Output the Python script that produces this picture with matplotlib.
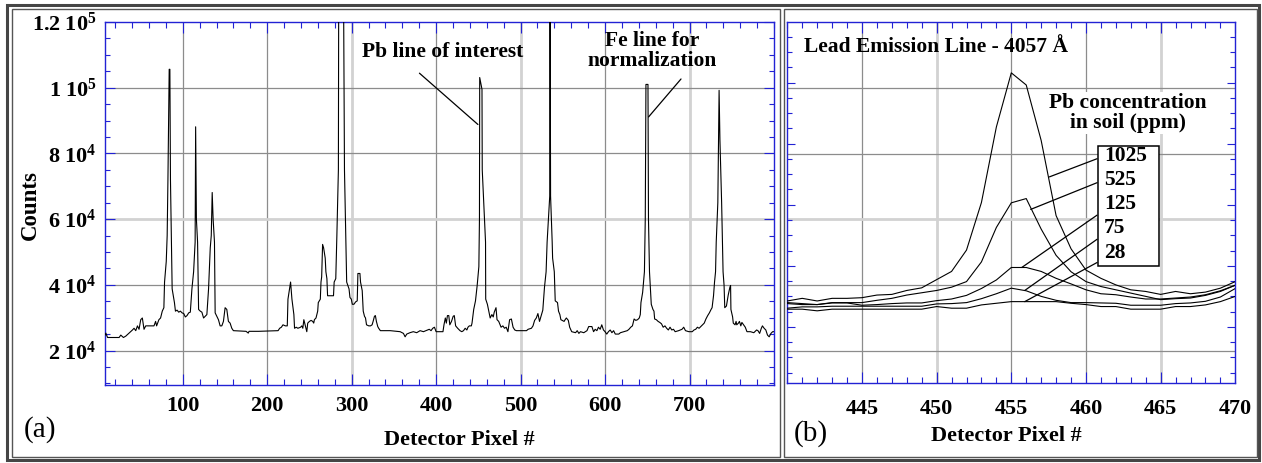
import matplotlib
matplotlib.use('Agg')
import matplotlib.pyplot as plt
from matplotlib.ticker import MultipleLocator, FixedLocator, NullFormatter
from matplotlib.patches import Rectangle
import numpy as np

plt.rcParams['font.family'] = ['Liberation Serif', 'DejaVu Serif']
plt.rcParams['font.weight'] = 'bold'
plt.rcParams['mathtext.fontset'] = 'custom'
plt.rcParams['mathtext.rm'] = 'Liberation Serif:bold'
plt.rcParams['mathtext.bf'] = 'Liberation Serif:bold'
plt.rcParams['mathtext.it'] = 'Liberation Serif:bold'

# ---------------- data: panel (a) full spectrum ----------------
spec_pixel = [8, 9, 11, 24.7, 26.7, 29.8, 32.6, 40.5, 42.4, 44.4, 46.4, 48.3, 50.3, 52.2, 54.2, 56.2,
              66, 67.9, 69.1, 71.8, 73.8, 75.8, 77.7, 78.5, 80.5, 81.6, 82.5, 84, 84.8, 85.5, 86.7,
              87.5, 90.2, 91.4, 93.3, 95.3, 97.3, 99.2, 101.2, 103.1, 105.1, 107.1, 109, 110.9,
              112.9, 114.7, 115.3, 116.2, 117.6, 118.8, 120.8, 122.7, 124.7, 126.7, 128.6, 130.6,
              132.6, 133.8, 134.9, 136, 137.6, 138.4, 140.4, 142.3, 144.3, 146.3, 148.2, 150.2,
              152.2, 154.1, 156.1, 158.1, 160, 175, 177.6, 178.5, 190, 212.9, 214.8, 216.8, 218.7,
              221.5, 223.8, 224.6, 227.7, 229.3, 231.6, 232.4, 234.4, 236.3, 239.5, 241, 242.2,
              243.4, 244.9, 246.9, 248, 250, 252, 253.9, 255.1, 255.9, 257.8, 259.8, 260.5, 262.9,
              263.7, 264.5, 265.6, 266.8, 268.7, 269.5, 270.7, 271.5, 278.5, 279.3, 281.2, 282.5,
              284.3, 284.8, 290, 291.5, 293, 294.1, 296.9, 298, 299.6, 300.8, 302.7, 304.7, 306.6,
              307.4, 309.8, 310.5, 312.5, 313.7, 315.2, 316.4, 317.6, 320.3, 322.3, 324.2, 325.4,
              327, 328.1, 329.3, 330.9, 332, 334, 345.7, 357.4, 361.3, 363.3, 365.2, 369, 373, 377,
              381, 385, 391.9, 394, 396, 398, 400, 408.1, 409.3, 410.9, 412.1, 413.4, 415, 416.2,
              418.2, 420.2, 421.5, 423.1, 425.5, 428.3, 430.4, 432.4, 434.4, 436.4, 437.7, 439.3,
              441.7, 442.5, 444.5, 446.6, 448.6, 450.6, 451.3, 451.6, 454.3, 454.6, 458.5, 458.7,
              460.7, 461.9, 464, 466, 467.6, 468.8, 470.9, 472.1, 474.1, 475.7, 476.9, 479, 481,
              483, 485, 487, 489.1, 491.1, 493.1, 495.1, 507, 508.9, 512.8, 514.7, 516.6, 518.6,
              520.5, 522.4, 526.3, 528.3, 530.2, 531.4, 534.5, 534.9, 535.5, 537.4, 537.9, 539.9,
              541, 543.7, 544.9, 546.5, 547.7, 551.5, 552.7, 554.2, 556.5, 558.1, 560.5, 565.1,
              567, 569, 570.9, 574.8, 578.6, 580.6, 584.4, 586.4, 588.3, 590.3, 592.2, 594.2,
              596.1, 598.1, 600, 602, 604, 606.1, 608.1, 610.1, 612.1, 616.2, 618.2, 622.3, 626.3,
              628.3, 630.4, 632.4, 634.4, 636.4, 638.5, 640.5, 641.7, 642.5, 644.5, 646.6, 647.6,
              648.4, 650.8, 651.4, 652.6, 654.7, 656.7, 657.9, 658.7, 660.7, 662.8, 664.8, 666.8,
              668.8, 670.9, 672.9, 674.9, 676.9, 679, 681, 683, 687.1, 691.1, 693.1, 695.2, 699.2,
              703.2, 705.3, 707.3, 709.3, 711.3, 713.4, 715.4, 717.4, 719.4, 721.5, 723.5, 725.5,
              726.7, 728.4, 729.6, 730.8, 731.6, 733.5, 735, 736, 738, 738.9, 739.7, 740.9, 741.7,
              743.7, 745.8, 747.8, 748.6, 749, 751, 751.8, 753.9, 755.1, 755.9, 757.9, 759.1,
              760.7, 762, 764, 766, 768, 772.1, 776.1, 779.4, 781, 783, 785, 786.3, 788.3, 790.3,
              792.3, 794.3, 796.4, 798.4, 802]
spec_counts = [24700, 25300, 23960, 23960, 24690, 23960, 24380, 26250, 26770, 26040, 27500, 26460,
               29380, 29900, 26460, 27500, 27500, 28860, 27500, 29380, 29900, 31980, 33030, 40840,
               47090, 55000, 72000, 105600, 105600, 72000, 53000, 38760, 34590, 31980, 32290, 31670,
               31980, 31460, 31250, 30210, 30630, 31460, 31670, 38760, 43970, 53000, 88100, 60000,
               53000, 32500, 31980, 31670, 29900, 30420, 30940, 38760, 51260, 55000, 68100, 60000,
               53000, 31460, 30420, 29380, 27500, 27500, 28860, 33030, 32500, 28860, 28340, 26770,
               26040, 25840, 25300, 25840, 25840, 26040, 26770, 27090, 27820, 27500, 27500, 35630,
               40840, 35630, 30940, 26770, 27090, 26770, 27090, 27500, 26770, 29380, 27820, 25730,
               28340, 28860, 29170, 28860, 28340, 29380, 29900, 31980, 34590, 35630, 40840, 42400,
               52300, 51260, 48130, 43970, 41880, 36670, 36670, 40840, 41880, 55000, 75000, 150000,
               150000, 75000, 55000, 40840, 38760, 36150, 35630, 34070, 34070, 34800, 35110, 43450,
               43450, 40840, 38240, 31980, 30420, 29900, 27820, 27500, 27500, 27820, 28860, 30420,
               30630, 28860, 27290, 26770, 26040, 26040, 25730, 25210, 24170, 25000, 25420, 25730,
               25420, 26040, 25730, 26460, 26040, 26770, 27090, 25730, 25730, 27820, 29900, 28340,
               30630, 30630, 27820, 28860, 30420, 30630, 27500, 26770, 26040, 25730, 26040, 26770,
               26250, 27090, 27500, 27500, 28340, 32500, 35110, 39800, 45530, 60000, 103100, 99500,
               75000, 53000, 35630, 34070, 32500, 29900, 30940, 30210, 31670, 33030, 29380, 28860,
               27820, 27090, 27500, 26770, 27090, 25730, 29380, 29590, 27090, 26250, 26040, 26040,
               26460, 26770, 27500, 29170, 29900, 31250, 28860, 32290, 39280, 43970, 53000, 67000,
               135000, 67000, 53000, 48130, 43970, 35110, 34590, 31980, 30940, 29380, 28860, 29380,
               29900, 29170, 27090, 25730, 25420, 26040, 25210, 25730, 25420, 26040, 27290, 27290,
               25730, 26460, 26040, 27090, 26460, 27820, 26250, 25730, 25000, 25730, 26250, 25420,
               26040, 25000, 25000, 25420, 25730, 26040, 26460, 27090, 27500, 29590, 29170, 29380,
               29900, 30940, 34590, 37710, 43970, 60000, 101000, 101000, 60000, 43970, 34070, 32500,
               31980, 29590, 29380, 28860, 28540, 28130, 27090, 27500, 26770, 26250, 27090, 26250,
               26460, 25730, 26040, 26460, 27090, 26040, 25730, 25730, 26250, 26460, 27090, 26770,
               27290, 27820, 28340, 29590, 30630, 31460, 32500, 33030, 36670, 40840, 43970, 53000,
               65000, 99200, 84000, 65000, 53000, 43970, 39800, 33030, 33550, 36880, 39280, 39800,
               32500, 30210, 28340, 27820, 28860, 27820, 28340, 28860, 27500, 28540, 27820, 27090,
               25730, 25730, 25420, 26250, 26040, 25210, 26770, 27500, 26770, 26250, 24690, 24170,
               25210, 25730, 25730]

# ---------------- data: panel (b) zoom on the lead line ----------------
zoom_pixel = [440, 441, 442, 443, 444, 445, 446, 447, 448, 449, 450, 451, 452, 453, 454, 455,
              456, 457, 458, 459, 460, 461, 462, 463, 464, 465, 466, 467, 468, 469, 470]
pb_1025 = [35100, 35900, 35100, 35900, 35900, 36100, 36900, 37100, 38300, 39100, 41600, 44100,
           50600, 65100, 88100, 104600, 100900, 84000, 61100, 51000, 44500, 42000, 40000, 38500,
           38000, 37100, 38000, 37300, 37800, 39000, 41000]
pb_525 = [34600, 34300, 34000, 34600, 34600, 34600, 35300, 35900, 36900, 37600, 38300, 39300,
          41000, 47000, 57500, 65000, 66300, 57000, 49000, 44000, 41000, 39500, 38500, 37500,
          36500, 35500, 35800, 36000, 36800, 38000, 39900]
pb_125 = [34300, 34000, 34000, 34500, 34500, 33800, 34000, 34300, 34500, 34500, 35200, 35700,
          36800, 38900, 41500, 45300, 45300, 44100, 42000, 40300, 38500, 37300, 37000, 36300,
          35700, 35700, 36000, 36300, 37000, 38200, 39900]
pb_75 = [32900, 33300, 33300, 33500, 33500, 33500, 33500, 33500, 33500, 33500, 34200, 34300,
         34600, 35800, 37300, 39000, 38200, 36500, 35300, 34600, 34600, 34500, 34400, 33800,
         33800, 33800, 34300, 34500, 35000, 36300, 38900]
pb_28 = [32600, 32600, 32100, 32600, 32600, 32600, 32600, 32600, 32600, 32600, 33400, 32900,
         32900, 33900, 34400, 34900, 34900, 34900, 34900, 34400, 34000, 33400, 33400, 32600,
         32600, 32600, 33400, 33400, 33900, 34900, 36500]
conc_labels = ['1025', '525', '125', '75', '28']

a_xticks = [100, 200, 300, 400, 500, 600, 700]
a_yticks = [20000, 40000, 60000, 80000, 100000, 120000]
a_yticklabels = [r'$2\;10^{4}$', r'$4\;10^{4}$', r'$6\;10^{4}$', r'$8\;10^{4}$',
                 r'$1\;10^{5}$', r'$1.2\;10^{5}$']
b_xticks = [445, 450, 455, 460, 465, 470]

# ---------------- figure ----------------
W, H = 1262, 463
fig = plt.figure(figsize=(W / 100, H / 100), dpi=100)
fig.patch.set_facecolor('white')


def frect(l, t, r, b):
    return [l / W, 1 - b / H, (r - l) / W, (b - t) / H]


def fxy(x, y):
    return x / W, 1 - y / H


# borders (table-like frame)
for (l, t, r, b, lw, c) in [(7, 5, 1259, 460, 2.2, '#454545'),
                            (11.5, 8.5, 779.5, 456.5, 1.0, '#555555'),
                            (783.5, 8.5, 1256.5, 456.5, 1.0, '#555555')]:
    fig.add_artist(Rectangle((l / W, 1 - b / H), (r - l) / W, (b - t) / H,
                             transform=fig.transFigure, fill=False, ec=c, lw=lw))

axa = fig.add_axes(frect(105, 22, 774, 385))
axb = fig.add_axes(frect(787.3, 22.3, 1235.3, 382.7))

BLUE = '#2222d4'
DARKGRID = '#8c8c8c'
LIGHTGRID = '#d2d2d2'

for ax in (axa, axb):
    for s in ax.spines.values():
        s.set_color(BLUE)
        s.set_linewidth(1.0)
    ax.tick_params(which='both', direction='in', top=True, right=True,
                   color=BLUE, labelcolor='black', width=0.8)

# ---- panel (a)
axa.plot(spec_pixel, spec_counts, color='black', lw=0.8, zorder=3)
axa.set_xlim(8, 800)
axa.set_ylim(9500, 120000)
axa.set_xticks(a_xticks)
axa.xaxis.set_minor_locator(MultipleLocator(20))
axa.set_yticks(a_yticks)
axa.set_yticklabels(a_yticklabels)
axa.yaxis.set_minor_locator(MultipleLocator(5000))
axa.tick_params(axis='x', which='major', length=8, pad=8, labelsize=16)
axa.tick_params(axis='x', which='minor', length=4)
axa.tick_params(axis='y', which='major', length=7.5, pad=6, labelsize=16)
axa.tick_params(axis='y', which='minor', length=3.6)
for v in a_xticks:
    light = v in (300, 500, 700)
    axa.axvline(v, color=LIGHTGRID if light else DARKGRID, lw=2 if light else 0.9, zorder=1)
for v in a_yticks[:-1]:
    light = v == 60000
    axa.axhline(v, color=LIGHTGRID if light else DARKGRID, lw=2 if light else 0.9, zorder=1)

axa.text(0.504, 0.917, 'Pb line of interest', transform=axa.transAxes,
         ha='center', va='center', fontsize=15.5, fontweight='bold', zorder=5)
axa.annotate('', xy=(449.5, 88800), xycoords='data', xytext=(0.470, 0.859),
             textcoords='axes fraction', arrowprops=dict(arrowstyle='-', color='black', lw=0.9,
                                                         shrinkA=0, shrinkB=0))
axa.text(0.818, 0.920, 'Fe line for\nnormalization', transform=axa.transAxes,
         ha='center', va='center', fontsize=15.5, fontweight='bold', linespacing=1.0, zorder=5)
axa.annotate('', xy=(651.5, 91100), xycoords='data', xytext=(0.861, 0.843),
             textcoords='axes fraction', arrowprops=dict(arrowstyle='-', color='black', lw=0.9,
                                                         shrinkA=0, shrinkB=0))

# ---- panel (b)
for series in (pb_1025, pb_525, pb_125, pb_75, pb_28):
    axb.plot(zoom_pixel, series, color='black', lw=0.8, zorder=3)
axb.set_xlim(440, 470)
axb.set_ylim(10200, 120000)
axb.set_xticks(b_xticks)
axb.xaxis.set_minor_locator(MultipleLocator(1))
step = 18610
base = 27200
axb.yaxis.set_major_locator(FixedLocator([base + step * k for k in range(-1, 6)]))
axb.yaxis.set_minor_locator(FixedLocator([base + step / 4 * k for k in range(-4, 24)]))
axb.yaxis.set_major_formatter(NullFormatter())
axb.tick_params(axis='x', which='major', length=8, pad=12, labelsize=16)
axb.tick_params(axis='x', which='minor', length=4)
axb.tick_params(axis='y', which='major', length=6)
axb.tick_params(axis='y', which='minor', length=3.6)
for v in b_xticks[:-1]:
    light = v in (450, 465)
    axb.axvline(v, color=LIGHTGRID if light else DARKGRID, lw=2 if light else 0.9, zorder=1)
for v in a_yticks[:-1]:
    light = v == 60000
    axb.axhline(v, color=LIGHTGRID if light else DARKGRID, lw=2 if light else 0.9, zorder=1)

axb.text(0.037, 0.932, 'Lead Emission Line - 4057 Å', transform=axb.transAxes,
         ha='left', va='center', fontsize=15.5, fontweight='bold', zorder=5)
axb.text(0.761, 0.748, 'Pb concentration\nin soil (ppm)', transform=axb.transAxes,
         ha='center', va='center', fontsize=15.5, fontweight='bold', linespacing=1.0, zorder=5,
         bbox=dict(facecolor='white', edgecolor='none', pad=1))
axb.add_patch(Rectangle((0.694, 0.324), 0.136, 0.333, transform=axb.transAxes,
                        facecolor='white', edgecolor='black', lw=1.1, zorder=4))
label_y = [0.629, 0.562, 0.496, 0.428, 0.361]
line_y = [0.6215, 0.555, 0.465, 0.398, 0.3335]
tips = [(457.55, 72900), (456.3, 63000), (455.7, 45300), (455.9, 38300), (455.9, 34900)]
for lab, ty, ly, tip in zip(conc_labels, label_y, line_y, tips):
    axb.text(0.707, ty, lab, transform=axb.transAxes, ha='left', va='center',
             fontsize=15.5, fontweight='bold', zorder=6)
    axb.annotate('', xy=tip, xycoords='data', xytext=(0.6915, ly), textcoords='axes fraction',
                 arrowprops=dict(arrowstyle='-', color='black', lw=0.9, shrinkA=0, shrinkB=0),
                 zorder=5)

# ---- axis titles and panel labels
x, y = fxy(30, 205)
fig.text(x, y, 'Counts', rotation=90, ha='center', va='center', fontsize=16.5, fontweight='bold')
x, y = fxy(459, 440)
fig.text(x, y, 'Detector Pixel #', ha='center', va='center', fontsize=16, fontweight='bold')
x, y = fxy(1006.7, 436)
fig.text(x, y, 'Detector Pixel #', ha='center', va='center', fontsize=16, fontweight='bold')
x, y = fxy(40, 430)
fig.text(x, y, '(a)', ha='center', va='center', fontsize=21, fontweight='normal')
x, y = fxy(810.8, 433.3)
fig.text(x, y, '(b)', ha='center', va='center', fontsize=21, fontweight='normal')

fig.savefig('out.png', dpi=100)
